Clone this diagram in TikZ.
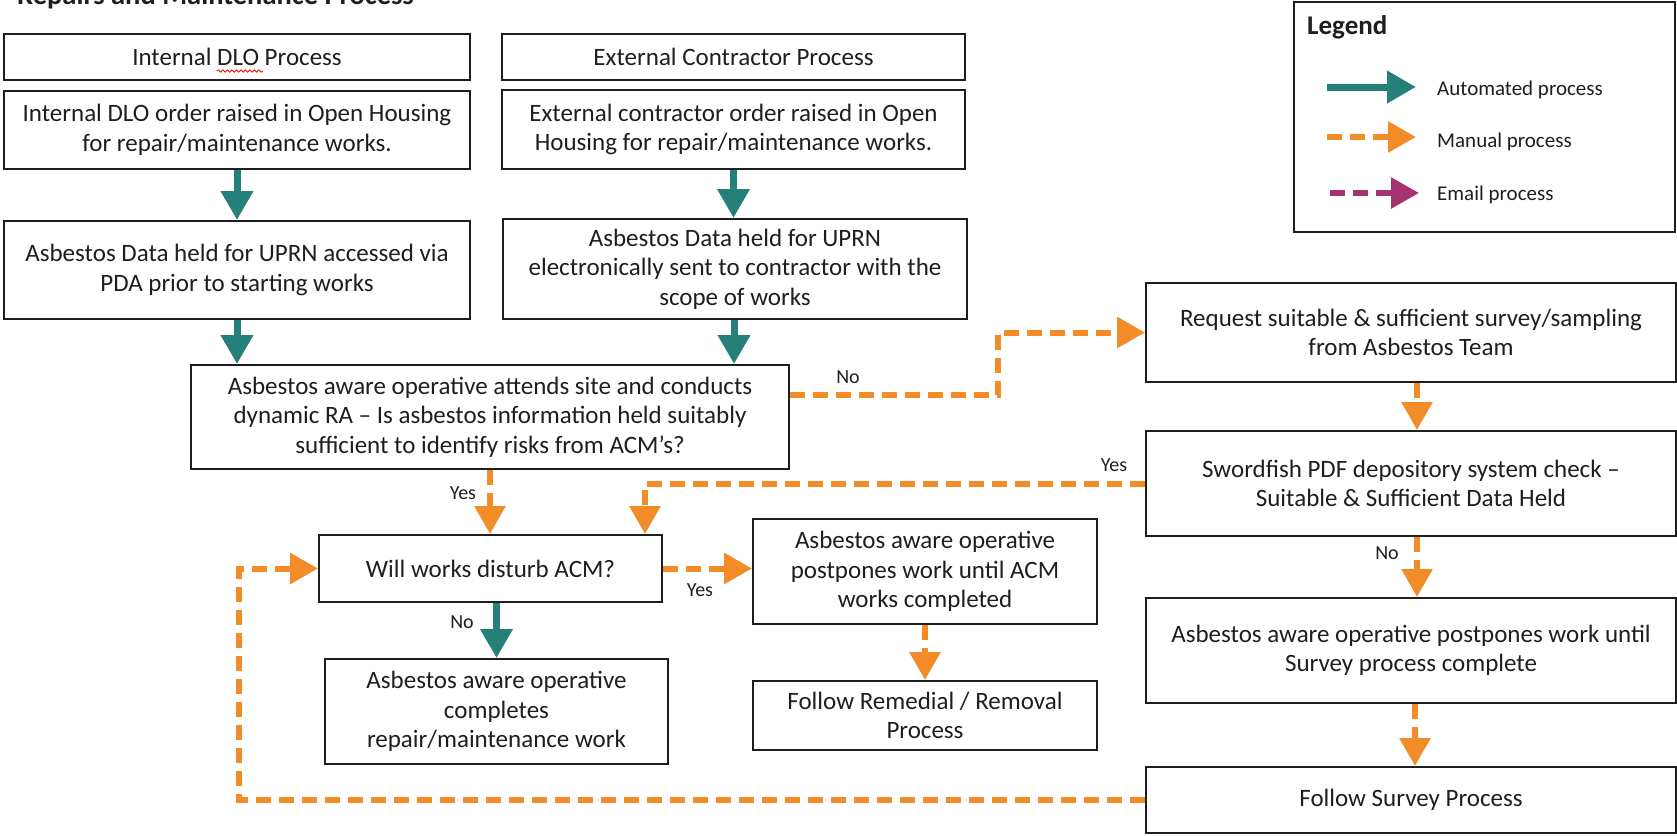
\documentclass[tikz,border=0pt]{standalone}
\usepackage{fontspec}
\setmainfont{Carlito}
\usetikzlibrary{arrows.meta,decorations.pathmorphing}
\definecolor{autoteal}{RGB}{38,128,122}
\definecolor{manorange}{RGB}{242,140,40}
\definecolor{mailpurple}{RGB}{163,50,110}
\definecolor{inkgrey}{RGB}{30,30,30}

\begin{document}
\begin{tikzpicture}[x=1pt,y=-1pt,
  procbox/.style={draw=inkgrey, line width=2pt, align=center, inner sep=0pt,
    text=inkgrey, font=\fontsize{25}{29.5}\selectfont},
  autoline/.style={draw=autoteal, line width=7pt,
    -{Triangle[length=29pt,width=31pt]}, autoteal},
  manualline/.style={draw=manorange, line width=6pt, dash pattern=on 15pt off 8pt,
    -{Triangle[length=28pt,width=30pt]}, manorange},
  emailline/.style={draw=mailpurple, line width=6pt, dash pattern=on 15pt off 8pt,
    -{Triangle[length=28pt,width=30pt]}, mailpurple},
  lbl/.style={font=\fontsize{20}{24}\selectfont, text=inkgrey, inner sep=0pt},
  legtext/.style={font=\fontsize{21}{25}\selectfont, text=inkgrey, inner sep=0pt, anchor=west},
]
\useasboundingbox (0,0) rectangle (1677,835);

% heading (runs off the top edge)
\node[anchor=base west, inner sep=0pt, text=inkgrey,
  font=\bfseries\fontsize{28.5}{32}\selectfont] (title) at (17,5)
  {Repairs and Maintenance Process};

% column headers
\node[procbox, minimum width=466pt, minimum height=46pt] (hdrL) at (237,57) {Internal DLO Process};
\node[procbox, minimum width=463pt, minimum height=46pt] (hdrR) at (733.5,57) {External Contractor Process};
% spell-check squiggle under "DLO"
\draw[red, line width=0.8pt, decorate, decoration={snake, amplitude=1.2pt, segment length=4.5pt}]
  (217,71) -- (263,71);

% left column
\node[procbox, minimum width=466pt, minimum height=78pt] (ordL) at (237,130)
  {Internal DLO order raised in Open Housing\\for repair/maintenance works.};
\node[procbox, minimum width=466pt, minimum height=98pt] (dataL) at (237,270)
  {Asbestos Data held for UPRN accessed via\\PDA prior to starting works};

% right column
\node[procbox, minimum width=463pt, minimum height=79pt] (ordR) at (733.5,129.5)
  {External contractor order raised in Open\\Housing for repair/maintenance works.};
\node[procbox, minimum width=464pt, minimum height=100pt] (dataR) at (735,269)
  {Asbestos Data held for UPRN\\electronically sent to contractor with the\\scope of works};

% on site
\node[procbox, minimum width=598pt, minimum height=104pt] (ra) at (490,417)
  {Asbestos aware operative attends site and conducts\\dynamic RA -- Is asbestos information held suitably\\sufficient to identify risks from ACM’s?};
\node[procbox, minimum width=343pt, minimum height=67pt] (disturb) at (490.5,568.5)
  {Will works disturb ACM?};
\node[procbox, minimum width=344pt, minimum height=105pt] (postacm) at (925,571.5)
  {Asbestos aware operative\\postpones work until ACM\\works completed};
\node[procbox, minimum width=343pt, minimum height=105pt] (complete) at (496.5,711.5)
  {Asbestos aware operative\\completes\\repair/maintenance work};
\node[procbox, minimum width=344pt, minimum height=69pt] (remedial) at (925,715.5)
  {Follow Remedial / Removal\\Process};

% survey branch
\node[procbox, minimum width=530pt, minimum height=99pt] (request) at (1411,332.5)
  {Request suitable \& sufficient survey/sampling\\from Asbestos Team};
\node[procbox, minimum width=530pt, minimum height=105pt] (sword) at (1411,483.5)
  {Swordfish PDF depository system check --\\Suitable \& Sufficient Data Held};
\node[procbox, minimum width=530pt, minimum height=105pt] (postsurvey) at (1411,650.5)
  {Asbestos aware operative postpones work until\\Survey process complete};
\node[procbox, minimum width=530pt, minimum height=66pt] (survey) at (1411,800)
  {Follow Survey Process};

% legend
\node[draw=inkgrey, line width=2pt, minimum width=381pt, minimum height=230pt, inner sep=0pt]
  (legendbox) at (1484.5,117) {};
\node[anchor=west, inner sep=0pt, text=inkgrey, font=\bfseries\fontsize{27}{30}\selectfont]
  (legendtitle) at (1307,27) {Legend};
\coordinate (la) at (1327,87);  \coordinate (lb) at (1416,87);
\coordinate (ma) at (1327,137); \coordinate (mb) at (1416,137);
\coordinate (ea) at (1330,193); \coordinate (eb) at (1419,193);
\draw[autoline] (la) -- (lb);
\draw[manualline] (ma) -- (mb);
\draw[emailline] (ea) -- (eb);
\node[legtext] (lauto) at (1437,90) {Automated process};
\node[legtext] (lman) at (1437,142) {Manual process};
\node[legtext] (lmail) at (1437,195) {Email process};

% guide positions for bends
\coordinate (noelbow) at (998,0);
\coordinate (swdrop) at (645,0);
\coordinate (loopx) at (239,0);
\coordinate (rcol) at (1417,0);

% automated links
\draw[autoline] (ordL.south) -- (ordL.south |- dataL.north);
\draw[autoline] (ordR.south) -- (ordR.south |- dataR.north);
\draw[autoline] (dataL.south) -- (dataL.south |- ra.north);
\draw[autoline] ([xshift=-1pt]dataR.south) -- ([xshift=-1pt]dataR.south |- ra.north);
\draw[autoline] (complete.north |- disturb.south) -- (complete.north);

% manual links
\draw[manualline] ([yshift=22pt]ra.east) -| (noelbow |- request.west) -- (request.west);
\draw[manualline] (ra.south) -- (ra.south |- disturb.north);
\draw[manualline] (sword.west) -| (swdrop |- disturb.north);
\draw[manualline] (disturb.east) -- (postacm.west |- disturb.east);
\draw[manualline] (postacm.south) -- (remedial.north);
\draw[manualline] (rcol |- request.south) -- (rcol |- sword.north);
\draw[manualline] (rcol |- sword.south) -- (rcol |- postsurvey.north);
\draw[manualline] ([xshift=4pt]postsurvey.south) -- ([xshift=4pt]postsurvey.south |- survey.north);
\draw[manualline] (survey.west) -| (loopx |- disturb.west) -- (disturb.west);

% branch labels
\node[lbl] (noA) at (848,377) {No};
\node[lbl] (yesA) at (463,493) {Yes};
\node[lbl] (yesB) at (1114,465) {Yes};
\node[lbl] (yesC) at (700,590) {Yes};
\node[lbl] (noB) at (462,622) {No};
\node[lbl] (noC) at (1387,553) {No};
\end{tikzpicture}
\end{document}
